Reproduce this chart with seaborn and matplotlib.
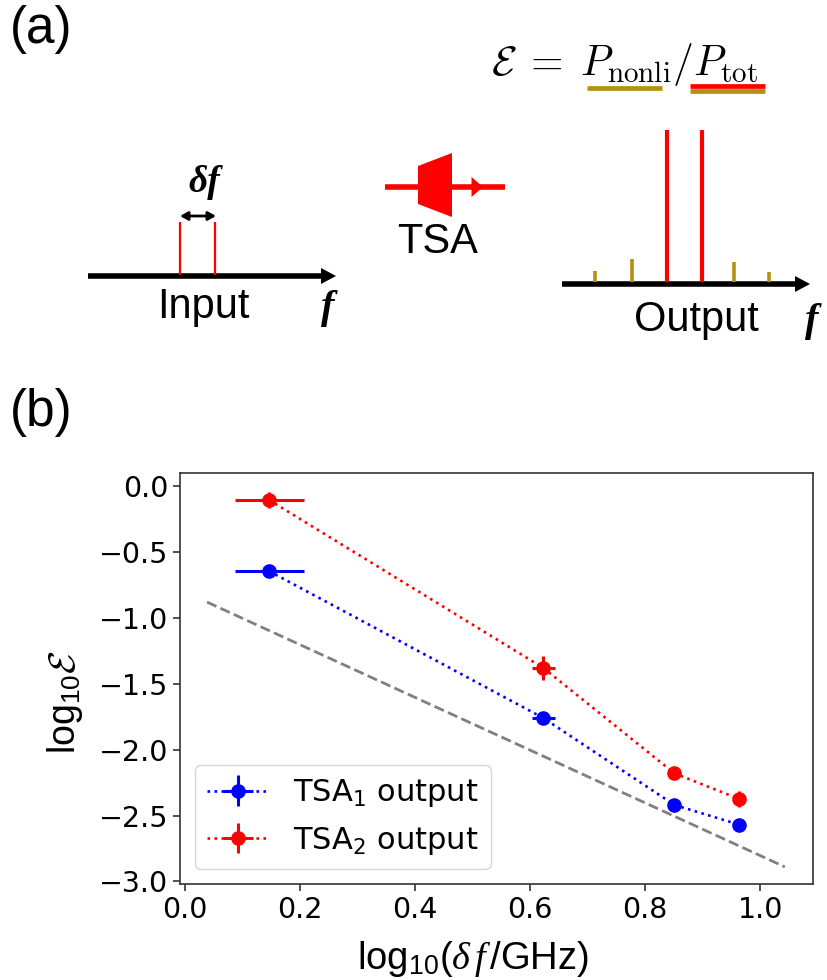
import matplotlib
matplotlib.use("Agg")
import matplotlib.pyplot as plt
from matplotlib.patches import Polygon
import pandas as pd
import seaborn as sns

# ── Panel (b) values ───────────────────────────────────────────────────────
delta_f = [0.146, 0.623, 0.851, 0.964]
tsa1_y = [-0.645, -1.76, -2.42, -2.57]
tsa2_y = [-0.105, -1.38, -2.18, -2.375]
tsa1_xerr = [0.06, 0.02, 0.008, 0.004]
tsa2_xerr = [0.06, 0.02, 0.008, 0.004]
tsa1_yerr = [0.02, 0.02, 0.02, 0.01]
tsa2_yerr = [0.06, 0.09, 0.02, 0.06]
guide_x = [0.038, 1.043]
guide_y = [-0.88, -2.89]
x_ticks = [0.0, 0.2, 0.4, 0.6, 0.8, 1.0]
y_ticks = [0.0, -0.5, -1.0, -1.5, -2.0, -2.5, -3.0]

# ── Panel (a) schematic, in figure pixels ──────────────────────────────────
input_tones = [180, 215]
output_main = [667, 702]
output_side = [595, 632.5, 734.5, 769]
output_side_top = [271, 259, 262, 272]
GOLD = "#B8900F"

W, H = 828, 980
sns.set_style("white", {"text.color": "black", "axes.labelcolor": "black",
                        "xtick.color": "black", "ytick.color": "black"})
plt.rcParams["mathtext.fontset"] = "dejavusans"
plt.rcParams["mathtext.rm"] = "Liberation Sans"
plt.rcParams["mathtext.it"] = "Liberation Serif:italic"
plt.rcParams["mathtext.cal"] = "cmsy10"

fig = plt.figure(figsize=(W / 100, H / 100), dpi=100)

ax = fig.add_axes([180 / W, 1 - 884 / H, (813 - 180) / W, (884 - 473) / H])
guide = pd.DataFrame({"x": guide_x, "y": guide_y})
sns.lineplot(data=guide, x="x", y="y", ax=ax, color="gray", linestyle="--", linewidth=2)

ax.errorbar(delta_f, tsa1_y, xerr=tsa1_xerr, yerr=tsa1_yerr, fmt="o:", color="blue",
            markersize=9.5, linewidth=1.9, elinewidth=2.2, label=r"TSA$_1$ output")
ax.errorbar(delta_f, tsa2_y, xerr=tsa2_xerr, yerr=tsa2_yerr, fmt="o:", color="red",
            markersize=9.5, linewidth=1.9, elinewidth=2.2, label=r"TSA$_2$ output")

ax.set_xlim(-0.009, 1.092)
ax.set_ylim(-3.02, 0.1)
ax.set_xticks(x_ticks)
ax.set_yticks(y_ticks)
ax.set_yticklabels(["0.0", "\u22120.5", "\u22121.0", "\u22121.5", "\u22122.0", "\u22122.5", "\u22123.0"])
ax.tick_params(axis="both", labelsize=20.5, length=5, width=1.2, color="#333333", left=True, bottom=True)
ax.set_xlabel(r"log$_{\mathrm{10}}$($\delta\,f\,$/GHz)", fontsize=27.5, family="Liberation Sans",
              math_fontfamily="custom")
ax.set_ylabel(r"log$_{\mathrm{10}}\mathcal{E}$", fontsize=27, family="Liberation Sans",
              math_fontfamily="custom")
ax.xaxis.set_label_coords(0.463, -0.133)
ax.yaxis.set_label_coords(-0.15, 0.443)
for side in ax.spines.values():
    side.set_color("#333333")
    side.set_linewidth(1.2)
ax.legend(loc="lower left", fontsize=22, frameon=True, borderaxespad=0.5)

# Schematic overlay uses pixel coordinates with y pointing down
top = fig.add_axes([0, 0, 1, 1], facecolor="none")
top.set_xlim(0, W)
top.set_ylim(H, 0)
top.axis("off")


def axis_arrow(x0, x1, y):
    top.plot([x0, x1 - 12], [y, y], color="black", lw=4, solid_capstyle="butt")
    top.add_patch(Polygon([(x1 - 15, y - 8), (x1, y), (x1 - 15, y + 8)], color="black", lw=0))


axis_arrow(88, 336, 276)
axis_arrow(562, 810, 284)
top.vlines(input_tones, 222, 275, color="red", lw=1.6)
top.vlines(output_main, 130, 282, color="red", lw=3)
top.vlines(output_side, output_side_top, 282, color=GOLD, lw=2.6)

top.annotate("", xy=(216, 216), xytext=(180, 216),
             arrowprops=dict(arrowstyle="<|-|>,head_length=0.45,head_width=0.25", color="black",
                             lw=2, shrinkA=0, shrinkB=0))

# TSA amplifier symbol
top.plot([385, 505], [187, 187], color="red", lw=4, solid_capstyle="butt")
top.add_patch(Polygon([(418, 166), (452, 153), (452, 217), (418, 204)], color="red", lw=0))
top.add_patch(Polygon([(471.5, 177), (483, 187), (471.5, 197)], color="red", lw=0))

# Underlines below the ratio
top.plot([587, 662], [88, 88], color=GOLD, lw=3.4, solid_capstyle="butt")
top.plot([690, 765], [86, 86], color="red", lw=3.4, solid_capstyle="butt")
top.plot([690, 765], [91, 91], color=GOLD, lw=3.4, solid_capstyle="butt")

sans = "Liberation Sans"
top.text(10, 30, "(a)", fontsize=37, family=sans, va="center")
top.text(10, 412, "(b)", fontsize=37, family=sans, va="center")
top.text(203, 307, "Input", fontsize=30, family=sans, ha="center", va="center")
top.text(438, 242, "TSA", fontsize=30, family=sans, ha="center", va="center")
top.text(696, 320, "Output", fontsize=30, family=sans, ha="center", va="center")

serif = dict(family="Liberation Serif", style="italic", weight="bold", ha="center", va="center")
top.text(204, 183, "\u03b4f", fontsize=27, **serif)
top.text(328, 308, "f", fontsize=29, **serif)
top.text(812, 321, "f", fontsize=29, **serif)

top.text(625, 65, r"$\mathcal{E}\;=\;P_{\mathrm{nonli}}/P_{\mathrm{tot}}$", fontsize=30,
         math_fontfamily="cm", ha="center", va="center")

fig.savefig("out.png", dpi=100)
